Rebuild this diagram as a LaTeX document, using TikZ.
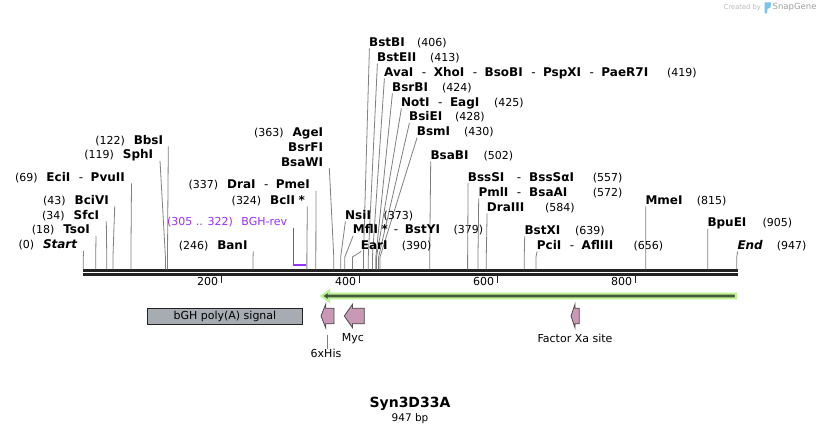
\documentclass[tikz,border=0pt]{standalone}
\usepackage{fontspec}
\setmainfont{DejaVu Sans}
\usetikzlibrary{calc}
\definecolor{lnc}{RGB}{128,128,128}
\definecolor{bbc}{RGB}{34,34,34}
\definecolor{prim}{RGB}{155,48,255}
\definecolor{pinkf}{RGB}{201,152,180}
\definecolor{featb}{RGB}{75,75,75}
\definecolor{boxg}{RGB}{167,172,178}
\definecolor{lgreen}{RGB}{188,242,145}
\definecolor{dgreen}{RGB}{72,88,60}
\definecolor{logob}{RGB}{120,195,240}
\newcommand\sep{\hspace{8.5pt}{\mdseries -}\hspace{7.5pt}}
\newcommand\mksite[1]{\coordinate (s#1) at ({83.3+0.69*#1},269.3); \coordinate (k#1) at ({83.3+0.69*#1},257);}
% right-type label: bp, name x, center y, name, number x, number
\newcommand\RL[6]{%
  \mksite{#1}
  \node[nm,anchor=base west] (L#1) at (#2,{#3+4.2}) {#4};
  \node[nb,anchor=base west] (N#1) at (#5,{#3+4.2}) {#6};
  \coordinate (t#1) at ($(L#1.base west)+(0.4,2.3)$);
  \draw[ln] (t#1) -- (k#1) -- (s#1);}
% left-type label: bp, name east x, center y, name, number, line top x
\newcommand\LLb[6]{%
  \mksite{#1}
  \node[nm,anchor=base east] (L#1) at (#2,{#3+4.2}) {#4};
  \node[nb,anchor=base east] (N#1) at ($(L#1.base west)+(-8.5,0)$) {#5};
  \coordinate (t#1) at (#6,{#3+6.3});
  \draw[ln] (t#1) -- (k#1) -- (s#1);}
\newcommand\farrow[4]{%
  \draw[draw=featb,fill=pinkf,line width=0.8pt,line join=miter]
    (#1,316) -- (#2,304.3) -- (#2,308.2) -- (#3,308.2) -- (#3,323.8) -- (#2,323.8) -- (#2,327.7) -- cycle;}
\begin{document}
\begin{tikzpicture}[x=1pt,y=-1pt,
  nm/.style={inner sep=0pt,font=\fontsize{12}{14}\selectfont\bfseries},
  nb/.style={inner sep=0pt,font=\fontsize{11}{13}\selectfont},
  ln/.style={draw=lnc,line width=0.8pt},
  ft/.style={inner sep=0pt,font=\fontsize{11}{13}\selectfont}]
\useasboundingbox[fill=white] (0,0) rectangle (822,435);

% watermark
\node[inner sep=0pt,anchor=east,text=gray!55,font=\fontsize{6.7}{8}\selectfont] (cb) at (761,7.5) {Created by};
\fill[logob] (764.5,2.5) -- (771,2.5) -- (770.5,7.5) -- (767.5,9) -- (767,13.5) -- (764.5,13.5) -- cycle;
\node[inner sep=0pt,anchor=west,text=gray!75,font=\fontsize{8.5}{10}\selectfont] (sg) at (772.5,7.5) {SnapGene};

% backbone
\draw[bbc,line width=2.5pt] (83.3,270.5) -- (737.6,270.5);
\draw[bbc,line width=2.5pt] (83.3,274.5) -- (737.6,274.5);

% ticks
\foreach \t in {200,400,600,800}{
  \draw[bbc,line width=1.5pt] ({83.3+0.69*\t},276) -- ({83.3+0.69*\t},283.5);
  \node[nb,anchor=east] (tick\t) at ({83.3+0.69*\t-3},281.5) {\t};
}

% left-type labels
\LLb{0}{77.7}{244.5}{\textit{Start}}{(0)}{83.6}
\LLb{18}{90}{229.5}{TsoI}{(18)}{96}
\LLb{34}{99.3}{215}{SfcI}{(34)}{106.3}
\LLb{43}{109}{200}{BciVI}{(43)}{114.7}
\LLb{69}{125}{177}{EciI\sep PvuII}{(69)}{131.5}
\LLb{119}{153.3}{154.5}{SphI}{(119)}{160}
\LLb{122}{163.3}{140}{BbsI}{(122)}{168.3}
\LLb{246}{247.7}{245}{BanI}{(246)}{253.3}
\LLb{324}{305}{200}{BclI\hspace{3.5pt}*}{(324)}{307.3}
\LLb{337}{310}{184.5}{DraI\sep PmeI}{(337)}{316}

% AgeI group
\mksite{363}
\node[nm,anchor=base east] (L363) at (323.3,136.2) {AgeI};
\node[nb,anchor=base east] (N363) at ($(L363.base west)+(-8.5,0)$) {(363)};
\node[nm,anchor=base east] (L363b) at (323.3,151.2) {BsrFI};
\node[nm,anchor=base east] (L363c) at (323.3,166.2) {BsaWI};
\coordinate (t363) at (329.3,168);
\draw[ln] (t363) -- (k363) -- (s363);

% primer BGH-rev
\node[nb,text=prim,anchor=base east] (Lbgh) at (287.3,225.9) {(305 .. 322)\hspace{8.5pt}BGH-rev};
\coordinate (p305t) at (293.8,228);
\coordinate (p305b) at (293.8,265.5);
\coordinate (p322b) at (305.6,265.5);
\draw[prim,line width=0.9pt] (p305t) -- (p305b);
\draw[prim,line width=2pt] ([xshift=-0.45pt]p305b) -- (p322b);

% right-type labels
\RL{406}{369}{42}{BstBI}{417}{(406)}
\RL{413}{377}{57}{BstEII}{430}{(413)}
\RL{419}{384}{72}{AvaI\sep XhoI\sep BsoBI\sep PspXI\sep PaeR7I}{667}{(419)}
\RL{424}{392}{87}{BsrBI}{442}{(424)}
\RL{425}{401}{102}{NotI\sep EagI}{494}{(425)}
\RL{428}{409}{116.5}{BsiEI}{455}{(428)}
\RL{430}{416.7}{131}{BsmI}{464}{(430)}
\RL{502}{430.3}{155}{BsaBI}{483.3}{(502)}
\RL{373}{345}{215}{NsiI}{383.3}{(373)}
\RL{379}{352.7}{229.5}{MflI\hspace{3.5pt}*\hspace{6pt}{\mdseries -}\hspace{6.5pt}BstYI}{453.3}{(379)}
\RL{390}{360.7}{245}{EarI}{401.7}{(390)}
\RL{557}{467.7}{177}{BssSI}{592.7}{(557)}
\node[nm,anchor=base west] (L557b) at (516.7,181.2) {{\mdseries -}\hspace{8pt}BssSαI};
\RL{572}{478.3}{192}{PmlI}{592.7}{(572)}
\node[nm,anchor=base west] (L572b) at (516.7,196.2) {{\mdseries -}\hspace{8pt}BsaAI};
\RL{584}{486.7}{207}{DraIII}{545}{(584)}
\RL{639}{524.3}{230}{BstXI}{575}{(639)}
\RL{656}{536.7}{245}{PciI\sep AflIII}{633.3}{(656)}
\RL{815}{645.3}{200}{MmeI}{696.7}{(815)}
\RL{905}{707.3}{222.5}{BpuEI}{762.3}{(905)}
\RL{947}{737.3}{245}{\textit{End}}{776.7}{(947)}

% ORF arrow
\draw[draw=lgreen,fill=dgreen,line width=2.1pt,line join=miter]
  (736,293.6) -- (329,293.6) -- (329,290.8) -- (321.5,296) -- (329,301.2) -- (329,298.4) -- (736,298.4) -- cycle;

% bGH poly(A) signal
\node[ft,draw=bbc,fill=boxg,line width=0.8pt,minimum width=155pt,minimum height=16pt,anchor=north west] (bgh) at (147,308) {bGH poly(A) signal};

% features
\farrow{321}{325.7}{334}{his}
\farrow{344.3}{352.5}{364.3}{myc}
\farrow{571}{575}{579.2}{fxa}
\node[ft] (lmyc) at (353,338.5) {Myc};
\node[ft] (lfxa) at (575,338.5) {Factor Xa site};
\node[ft] (lhis) at (326,353) {6xHis};
\coordinate (hisb) at (327.8,335);
\draw[ln] (hisb) -- (hisb |- lhis.north);

% title
\node[inner sep=0pt,font=\fontsize{14}{16}\selectfont\bfseries] (title) at (410,404) {Syn3D33A};
\node[inner sep=0pt,font=\fontsize{10.5}{12}\selectfont] (len) at (410,419) {947 bp};
\end{tikzpicture}
\end{document}
